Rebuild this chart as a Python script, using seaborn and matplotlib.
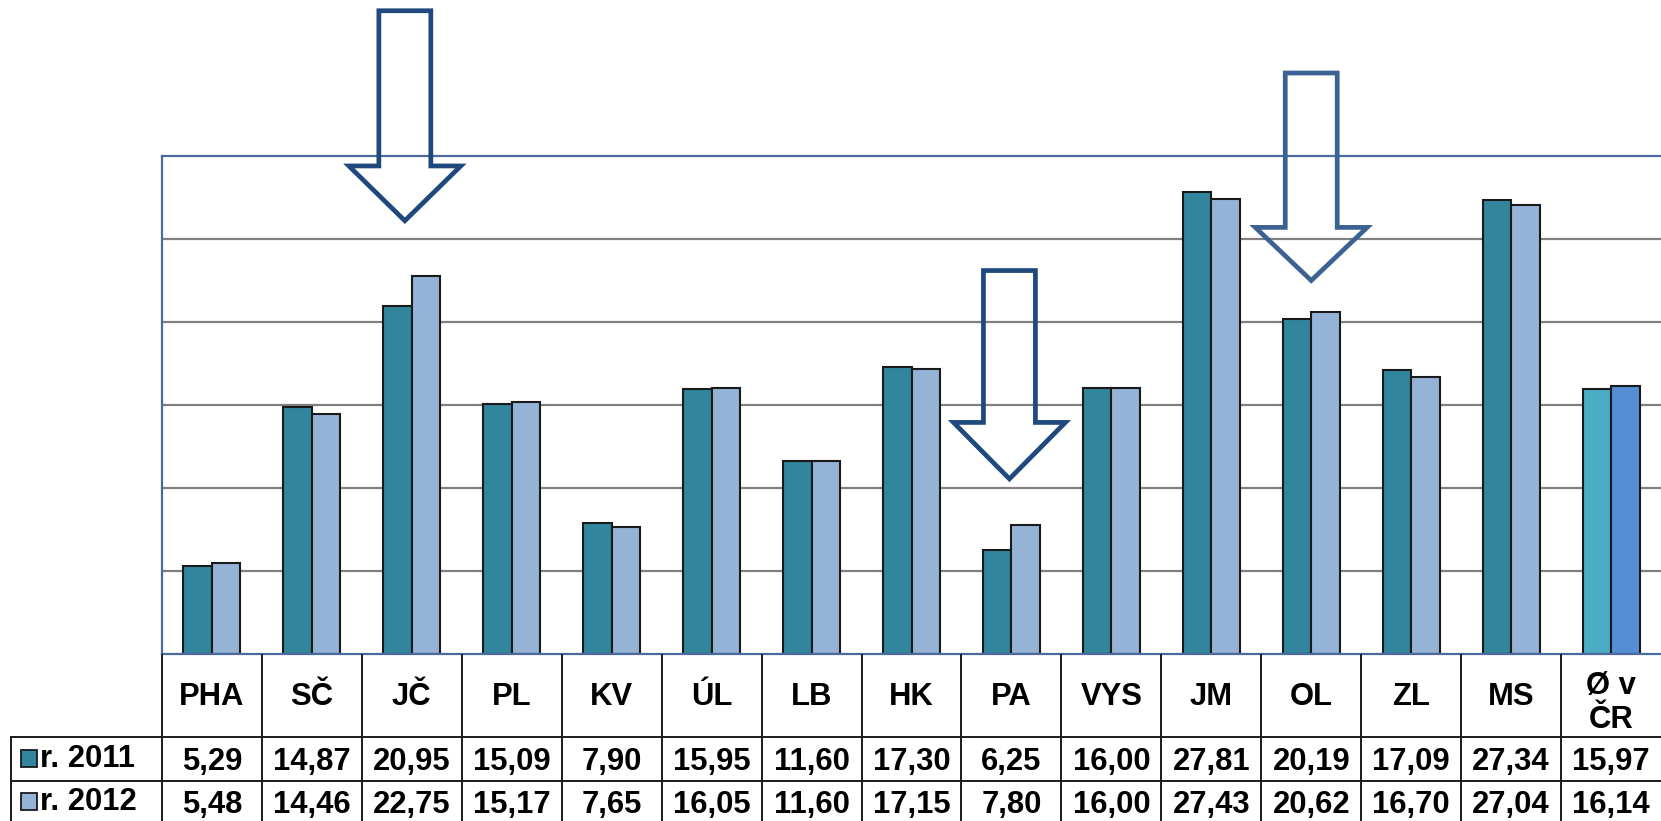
import matplotlib.pyplot as plt
import pandas as pd
import seaborn as sns
from matplotlib.patches import Polygon, Rectangle
from matplotlib.transforms import blended_transform_factory

# data
kraje = ["PHA", "SČ", "JČ", "PL", "KV", "ÚL", "LB", "HK", "PA", "VYS",
         "JM", "OL", "ZL", "MS", "Ø v\nČR"]
hodnoty_2011 = [5.29, 14.87, 20.95, 15.09, 7.90, 15.95, 11.60, 17.30, 6.25,
                16.00, 27.81, 20.19, 17.09, 27.34, 15.97]
hodnoty_2012 = [5.48, 14.46, 22.75, 15.17, 7.65, 16.05, 11.60, 17.15, 7.80,
                16.00, 27.43, 20.62, 16.70, 27.04, 16.14]
roky = ["r. 2011", "r. 2012"]

c2011 = "#31859c"
c2012 = "#95b3d7"
c_avg2011 = "#4bacc6"
c_avg2012 = "#558ed5"

df = pd.DataFrame({
    "kraj": kraje * 2,
    "hodnota": hodnoty_2011 + hodnoty_2012,
    "rok": [roky[0]] * len(kraje) + [roky[1]] * len(kraje),
})

sns.set_theme(style="white")
plt.rcParams["font.family"] = ["Liberation Sans", "DejaVu Sans"]
plt.rcParams["text.color"] = "black"

W, H = 1661, 821
fig = plt.figure(figsize=(W / 100, H / 100), dpi=100)
ax = fig.add_axes([162 / W, (H - 654) / H, 1 - 162 / W, (654 - 156) / H])

sns.barplot(data=df, x="kraj", y="hodnota", hue="rok",
            palette=[c2011, c2012], width=0.57, saturation=1,
            edgecolor="#1a1a1a", linewidth=1.5, legend=False, ax=ax)

# average bars have their own colours
for p in ax.patches:
    cx = p.get_x() + p.get_width() / 2
    if cx > 13.5:
        p.set_facecolor(c_avg2011 if cx < 14 else c_avg2012)

ax.set_xlim(-0.5, 14.5)
ax.set_ylim(0, 30)
ax.set_yticks([5, 10, 15, 20, 25])
ax.yaxis.grid(True, color="#808080", lw=1.6)
ax.set_axisbelow(True)
ax.set_yticklabels([])
ax.set_xticks([])
ax.set_xlabel("")
ax.set_ylabel("")
ax.tick_params(length=0)
for s in ["left", "top", "bottom"]:
    ax.spines[s].set_color("#4a6b9c")
    ax.spines[s].set_linewidth(1.6)
ax.spines["right"].set_visible(False)

# arrows (outline only)
def arrow(xc, top, neck, tip, color):
    sw, hw = 0.26, 0.56
    pts = [(xc - sw, top), (xc + sw, top), (xc + sw, neck), (xc + hw, neck),
           (xc, tip), (xc - hw, neck), (xc - sw, neck)]
    ax.add_patch(Polygon(pts, closed=True, fill=False, edgecolor=color,
                         lw=3.4, joinstyle="miter", clip_on=False, zorder=5))

arrow(1.93, 38.75, 29.4, 26.1, "#1f497d")
arrow(7.98, 23.1, 13.95, 10.55, "#1f497d")
arrow(11.0, 35.0, 25.7, 22.5, "#3b6292")

# data table under the chart
tax = fig.add_axes([0, 0, 1, (H - 654) / H])
tax.set_xlim(0, W)
tax.set_ylim(H, 654)
tax.axis("off")
tr = blended_transform_factory(ax.transData, tax.transData)

line_kw = dict(color="#1a1a1a", lw=1.4)
tax.plot([11, W], [736.5, 736.5], **line_kw)
tax.plot([11, W], [781, 781], **line_kw)
tax.plot([11, 11], [736.5, H], **line_kw)
for i in range(len(kraje)):
    tax.plot([i - 0.5, i - 0.5], [654, H], transform=tr, **line_kw)

fs = 22.3
txt_kw = dict(fontsize=fs, fontweight="bold", color="black")
for i, k in enumerate(kraje):
    if "\n" in k:
        tax.text(i, 703, k, transform=tr, ha="center", va="center",
                 linespacing=1.2, **txt_kw)
    else:
        tax.text(i, 705, k, transform=tr, ha="center", va="baseline", **txt_kw)
    tax.text(i, 770, f"{hodnoty_2011[i]:.2f}".replace(".", ","), transform=tr,
             ha="center", va="baseline", **txt_kw)
    tax.text(i, 813, f"{hodnoty_2012[i]:.2f}".replace(".", ","), transform=tr,
             ha="center", va="baseline", **txt_kw)

for y, rok, c in [(767, roky[0], c2011), (810, roky[1], c2012)]:
    tax.add_patch(Rectangle((21, y - 17), 16, 17, facecolor=c,
                            edgecolor="#1a1a1a", lw=1.3))
    tax.text(40, y, rok, ha="left", va="baseline", **txt_kw)

fig.savefig("out.png", dpi=100)
